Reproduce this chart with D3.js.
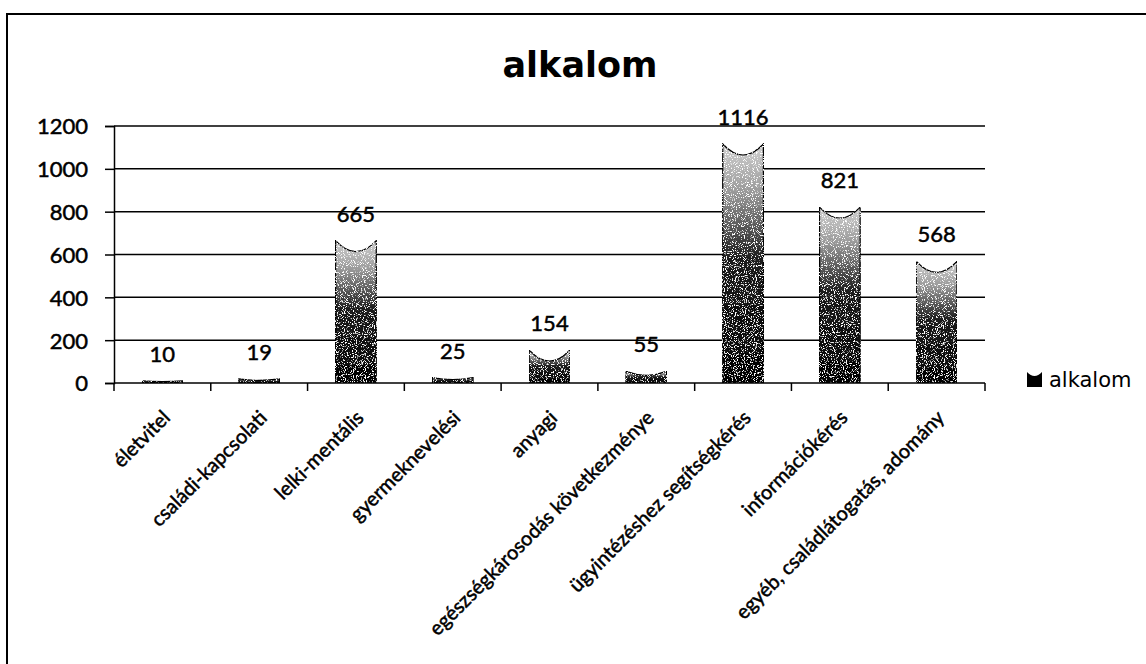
<!DOCTYPE html>
<html>
<head>
<meta charset="utf-8">
<script src="https://cdn.jsdelivr.net/npm/d3@7"></script>
<style>
	body { margin: 0; background: #fff; }
	text { font-family: Lato, "Open Sans", sans-serif; fill: #000; }
	.inked { stroke: #000; stroke-width: 0.5px; }
</style>
</head>
<body>
<div id="chart"></div>
<script>
(function(){
	var width = 1146,
		height = 664;

	// data
	var categories = ["életvitel", "családi-kapcsolati", "lelki-mentális", "gyermeknevelési", "anyagi",
		"egészségkárosodás következménye", "ügyintézéshez segítségkérés", "információkérés",
		"egyéb, családlátogatás, adomány"];
	var values = [10, 19, 665, 25, 154, 55, 1116, 821, 568];
	var yTicks = [0, 200, 400, 600, 800, 1000, 1200];
	var seriesName = "alkalom";

	var plot = { left: 114, right: 985, top: 126, bottom: 383 };

	var svg = d3.select("#chart")
		.append("svg")
		.attr("width", width)
		.attr("height", height)

	var defs = svg.append("defs");

	// bar fill - light at the top, black at the bottom
	var grad = defs.append("linearGradient")
		.attr("id", "barGrad")
		.attr("x1", 0).attr("y1", 0).attr("x2", 0).attr("y2", 1);
	grad.append("stop").attr("offset", "0%").attr("stop-color", "#d0d0d0");
	grad.append("stop").attr("offset", "20%").attr("stop-color", "#9a9a9a");
	grad.append("stop").attr("offset", "48%").attr("stop-color", "#1c1c1c");
	grad.append("stop").attr("offset", "100%").attr("stop-color", "#000");

	// sparse white specks, like the scan
	var grain = defs.append("filter").attr("id", "grain")
		.attr("x", 0).attr("y", 0).attr("width", 1).attr("height", 1);
	grain.append("feTurbulence")
		.attr("type", "fractalNoise")
		.attr("baseFrequency", 0.9)
		.attr("numOctaves", 2)
		.attr("seed", 4)
		.attr("result", "noise");
	grain.append("feColorMatrix")
		.attr("in", "noise")
		.attr("type", "matrix")
		.attr("values", "0 0 0 0 1  0 0 0 0 1  0 0 0 0 1  0 0 0 -9 3.9")
		.attr("result", "specks");
	grain.append("feComposite")
		.attr("in", "specks").attr("in2", "SourceGraphic")
		.attr("operator", "in").attr("result", "specksIn");
	var merge = grain.append("feMerge");
	merge.append("feMergeNode").attr("in", "SourceGraphic");
	merge.append("feMergeNode").attr("in", "specksIn");

	// frame of the chart area
	svg.append("rect")
		.attr("x", 7).attr("y", 14)
		.attr("width", width + 20).attr("height", height + 20)
		.attr("fill", "none")
		.attr("stroke", "#000")
		.attr("stroke-width", 2)

	var x = d3.scaleBand()
		.domain(categories)
		.range([plot.left, plot.right])
		.padding(0)

	var y = d3.scaleLinear()
		.domain([0, 1200])
		.range([plot.bottom, plot.top])

	// y axis
	var yAxis = svg.append("g")
		.attr("transform", "translate(" + plot.left + ",0)")
		.call(d3.axisLeft(y).tickValues(yTicks).tickFormat(d3.format("d")).tickSize(9).tickPadding(17))
	yAxis.select(".domain").attr("stroke-width", 1.5)
	yAxis.selectAll(".tick line").attr("stroke-width", 1.5)
	yAxis.selectAll(".tick text")
		.attr("class", "inked")
		.style("font-size", "22px")
		.style("font-family", "Lato, sans-serif")
		.attr("dy", "0.36em")

	// gridlines
	svg.append("g")
		.selectAll("line")
		.data(yTicks.filter(function(d){ return d > 0; }))
		.enter().append("line")
		.attr("x1", plot.left).attr("x2", plot.right)
		.attr("y1", function(d){ return y(d); })
		.attr("y2", function(d){ return y(d); })
		.attr("stroke", "#000")
		.attr("stroke-width", 1.5)

	// bars with the hollow top
	var barW = x.bandwidth() * 0.42;
	svg.append("g")
		.selectAll("path")
		.data(values)
		.enter().append("path")
		.attr("d", function(d, i){
			var cx = x(categories[i]) + x.bandwidth() / 2,
				x0 = cx - barW / 2, x1 = cx + barW / 2,
				top = y(d), bot = y(0),
				dip = Math.min(11, (bot - top) * 0.35);
			return "M" + x0 + "," + bot + "L" + x0 + "," + top +
				"Q" + cx + "," + (top + dip * 2) + " " + x1 + "," + top +
				"L" + x1 + "," + bot + "Z";
		})
		.attr("fill", "url(#barGrad)")
		.attr("stroke", "#000")
		.attr("stroke-width", 1.2)
		.attr("filter", "url(#grain)")

	// value labels
	svg.append("g")
		.selectAll("text")
		.data(values)
		.enter().append("text")
		.attr("class", "inked")
		.attr("x", function(d, i){ return x(categories[i]) + x.bandwidth() / 2; })
		.attr("y", function(d){ return y(d) - 19; })
		.attr("text-anchor", "middle")
		.style("font-size", "22px")
		.text(function(d){ return d; })

	// x axis with ticks on the category edges
	svg.append("line")
		.attr("x1", plot.left).attr("x2", plot.right)
		.attr("y1", y(0)).attr("y2", y(0))
		.attr("stroke", "#000")
		.attr("stroke-width", 1.5)

	var edges = categories.map(function(c){ return x(c); }).concat([x.range()[1]]);
	svg.append("g")
		.selectAll("line")
		.data(edges)
		.enter().append("line")
		.attr("x1", function(d){ return d; })
		.attr("x2", function(d){ return d; })
		.attr("y1", y(0)).attr("y2", y(0) + 8)
		.attr("stroke", "#000")
		.attr("stroke-width", 1.5)

	svg.append("g")
		.selectAll("text")
		.data(categories)
		.enter().append("text")
		.attr("class", "inked")
		.attr("transform", function(d){
			return "translate(" + (x(d) + x.bandwidth() / 2 + 9) + "," + (y(0) + 36) + ") rotate(-45)";
		})
		.attr("text-anchor", "end")
		.style("font-size", "20px")
		.text(function(d){ return d; })

	// title
	svg.append("text")
		.attr("x", 580)
		.attr("y", 77)
		.attr("text-anchor", "middle")
		.style("font-family", "'DejaVu Sans', sans-serif")
		.style("font-size", "35px")
		.style("font-weight", "bold")
		.text(seriesName)

	// legend
	var legend = svg.append("g")
		.attr("transform", "translate(1027,372)")
	legend.append("path")
		.attr("d", "M0,15L0,0Q7.5,8 15,0L15,15Z")
		.attr("fill", "#000")
	legend.append("text")
		.attr("x", 22)
		.attr("y", 15)
		.style("font-family", "'DejaVu Sans', sans-serif")
		.style("font-size", "21px")
		.text(seriesName)

})();
</script>
</body>
</html>
